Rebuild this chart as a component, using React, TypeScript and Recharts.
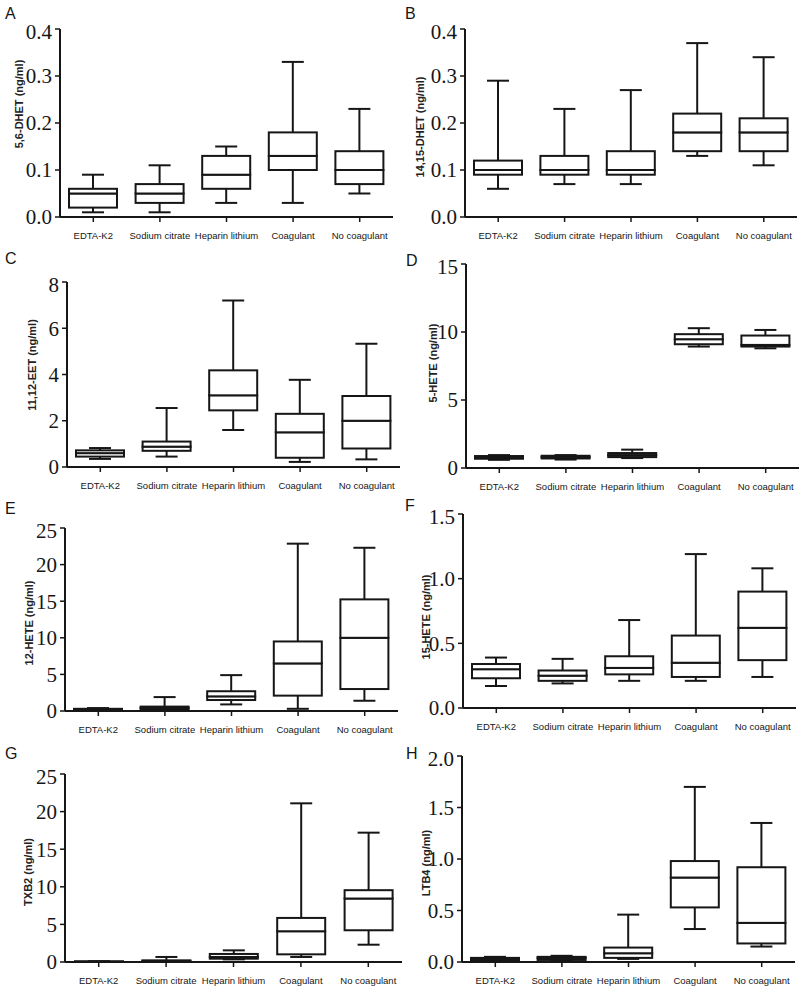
import React from "react"
import { ComposedChart, Bar, XAxis, YAxis } from "recharts"

const CATEGORIES = ["EDTA-K2", "Sodium citrate", "Heparin lithium", "Coagulant", "No coagulant"]

// each row: [min, q1, median, q3, max], in CATEGORIES order
const DHET_56 = [
  [0.01, 0.02, 0.05, 0.06, 0.09],
  [0.01, 0.03, 0.05, 0.07, 0.11],
  [0.03, 0.06, 0.09, 0.13, 0.15],
  [0.03, 0.1, 0.13, 0.18, 0.33],
  [0.05, 0.07, 0.1, 0.14, 0.23],
]
const DHET_1415 = [
  [0.06, 0.09, 0.1, 0.12, 0.29],
  [0.07, 0.09, 0.1, 0.13, 0.23],
  [0.07, 0.09, 0.1, 0.14, 0.27],
  [0.13, 0.14, 0.18, 0.22, 0.37],
  [0.11, 0.14, 0.18, 0.21, 0.34],
]
const EET_1112 = [
  [0.35, 0.45, 0.6, 0.72, 0.82],
  [0.45, 0.7, 0.88, 1.1, 2.55],
  [1.6, 2.45, 3.1, 4.18, 7.2],
  [0.22, 0.4, 1.5, 2.3, 3.77],
  [0.33, 0.8, 2.0, 3.07, 5.33],
]
const HETE_5 = [
  [0.6, 0.68, 0.78, 0.88, 0.95],
  [0.62, 0.7, 0.8, 0.9, 0.95],
  [0.73, 0.8, 0.95, 1.1, 1.35],
  [8.93, 9.1, 9.47, 9.84, 10.28],
  [8.8, 8.93, 9.05, 9.74, 10.15],
]
const HETE_12 = [
  [0.08, 0.12, 0.2, 0.3, 0.4],
  [0.1, 0.2, 0.4, 0.6, 1.9],
  [0.9, 1.5, 2.0, 2.7, 4.9],
  [0.3, 2.1, 6.5, 9.5, 22.86],
  [1.4, 3.0, 10.0, 15.25, 22.3],
]
const HETE_15 = [
  [0.17, 0.23, 0.3, 0.34, 0.39],
  [0.19, 0.21, 0.25, 0.29, 0.38],
  [0.21, 0.26, 0.31, 0.4, 0.68],
  [0.21, 0.24, 0.35, 0.56, 1.19],
  [0.24, 0.37, 0.62, 0.9, 1.08],
]
const TXB2 = [
  [0.02, 0.04, 0.06, 0.08, 0.1],
  [0.05, 0.09, 0.13, 0.22, 0.67],
  [0.35, 0.44, 0.67, 1.07, 1.55],
  [0.67, 1.02, 4.09, 5.86, 21.1],
  [2.3, 4.22, 8.44, 9.55, 17.2],
]
const LTB4 = [
  [0.01, 0.015, 0.025, 0.04, 0.05],
  [0.01, 0.02, 0.04, 0.05, 0.06],
  [0.03, 0.04, 0.085, 0.14, 0.46],
  [0.32, 0.53, 0.82, 0.98, 1.7],
  [0.15, 0.18, 0.38, 0.92, 1.35],
]

const TICKS_DHET = [0, 0.1, 0.2, 0.3, 0.4]
const TICKS_EET = [0, 2, 4, 6, 8]
const TICKS_5HETE = [0, 5, 10, 15]
const TICKS_25 = [0, 5, 10, 15, 20, 25]
const TICKS_15HETE = [0, 0.5, 1.0, 1.5]
const TICKS_LTB4 = [0, 0.5, 1.0, 1.5, 2.0]

const INK = "#161616"
const SANS = "'Liberation Sans', Arial, sans-serif"

function toRows(stats: number[][]) {
  return CATEGORIES.map((name, i) => {
    const [min, q1, med, q3, max] = stats[i]
    return { name, base: min, lowW: q1 - min, lowBox: med - q1, highBox: q3 - med, highW: max - q3 }
  })
}

const whisker = (capAtTop: boolean) => (props: any) => {
  const { x, y, width, height } = props
  const cx = x + width / 2
  const capY = capAtTop ? y : y + height
  return (
    <g>
      <line x1={cx} x2={cx} y1={y} y2={y + height} stroke={INK} strokeWidth={2} />
      <line x1={cx - 11} x2={cx + 11} y1={capY} y2={capY} stroke={INK} strokeWidth={2} />
    </g>
  )
}

const boxPart = (props: any) => {
  const { x, y, width, height } = props
  return <rect x={x} y={y} width={width} height={Math.max(height, 0)} fill="#fff" stroke={INK} strokeWidth={2} />
}

const PANELS = [
  { letter: "A", title: "5,6-DHET (ng/ml)", stats: DHET_56, ticks: TICKS_DHET, dec: 1, left: 0, axisX: 60, top: 29, bottom: 217, right: 393, lx: 5, ly: 6, tx: 19, ty: 104 },
  { letter: "B", title: "14,15-DHET (ng/ml)", stats: DHET_1415, ticks: TICKS_DHET, dec: 1, left: 400, axisX: 465, top: 29, bottom: 217, right: 797, lx: 405, ly: 6, tx: 420, ty: 127 },
  { letter: "C", title: "11,12-EET (ng/ml)", stats: EET_1112, ticks: TICKS_EET, dec: 0, left: 0, axisX: 67, top: 282, bottom: 467, right: 400, lx: 5, ly: 251, tx: 32, ty: 365 },
  { letter: "D", title: "5-HETE (ng/ml)", stats: HETE_5, ticks: TICKS_5HETE, dec: 0, left: 400, axisX: 466, top: 264, bottom: 468, right: 799, lx: 406, ly: 253, tx: 433, ty: 363 },
  { letter: "E", title: "12-HETE (ng/ml)", stats: HETE_12, ticks: TICKS_25, dec: 0, left: 0, axisX: 65, top: 528, bottom: 711, right: 398, lx: 5, ly: 501, tx: 29, ty: 623 },
  { letter: "F", title: "15-HETE (ng/ml)", stats: HETE_15, ticks: TICKS_15HETE, dec: 1, left: 400, axisX: 463, top: 514, bottom: 708, right: 796, lx: 405, ly: 498, tx: 426, ty: 617 },
  { letter: "G", title: "TXB2 (ng/ml)", stats: TXB2, ticks: TICKS_25, dec: 0, left: 0, axisX: 65, top: 774, bottom: 962, right: 402, lx: 5, ly: 746, tx: 28, ty: 872 },
  { letter: "H", title: "LTB4 (ng/ml)", stats: LTB4, ticks: TICKS_LTB4, dec: 1, left: 400, axisX: 462, top: 756, bottom: 962, right: 795, lx: 406, ly: 746, tx: 426, ty: 863 },
]

function BoxPanel({ p }: { p: (typeof PANELS)[number] }) {
  const w = p.right - p.left + 4
  const h = p.bottom - p.top + 10 + 30
  const max = p.ticks[p.ticks.length - 1]
  return (
    <>
      <div style={{ position: "absolute", left: p.lx, top: p.ly, fontFamily: SANS, fontSize: 16, lineHeight: "16px", color: INK }}>
        {p.letter}
      </div>
      <div
        style={{
          position: "absolute",
          left: p.tx,
          top: p.ty,
          transform: "translate(-50%, -50%) rotate(-90deg)",
          whiteSpace: "nowrap",
          fontFamily: SANS,
          fontSize: 11,
          fontWeight: "bold",
          color: "#222",
        }}
      >
        {p.title}
      </div>
      <div style={{ position: "absolute", left: p.left, top: p.top - 10 }}>
        <ComposedChart width={w} height={h} data={toRows(p.stats)} margin={{ top: 10, right: 4, left: 0, bottom: 0 }}>
          <XAxis
            dataKey="name"
            interval={0}
            height={30}
            tickSize={5}
            tickMargin={10}
            axisLine={{ stroke: INK, strokeWidth: 2 }}
            tickLine={{ stroke: INK, strokeWidth: 1.5 }}
            tick={{ fontSize: 9.5, fill: INK, fontFamily: SANS }}
          />
          <YAxis
            domain={[0, max]}
            ticks={p.ticks}
            width={p.axisX - p.left}
            tickSize={5}
            tickMargin={3}
            axisLine={{ stroke: INK, strokeWidth: 2 }}
            tickLine={{ stroke: INK, strokeWidth: 1.5 }}
            tick={{ fontSize: 21, fill: INK, fontFamily: "'Liberation Serif', 'Times New Roman', serif" }}
            tickFormatter={(v: number) => v.toFixed(p.dec)}
          />
          <Bar dataKey="base" stackId="b" barSize={48} fill="transparent" isAnimationActive={false} />
          <Bar dataKey="lowW" stackId="b" barSize={48} shape={whisker(false)} isAnimationActive={false} />
          <Bar dataKey="lowBox" stackId="b" barSize={48} shape={boxPart} isAnimationActive={false} />
          <Bar dataKey="highBox" stackId="b" barSize={48} shape={boxPart} isAnimationActive={false} />
          <Bar dataKey="highW" stackId="b" barSize={48} shape={whisker(true)} isAnimationActive={false} />
        </ComposedChart>
      </div>
    </>
  )
}

export default function App() {
  return (
    <div style={{ position: "absolute", left: 0, top: 0, width: 800, height: 988, background: "#fff", overflow: "hidden" }}>
      {PANELS.map((p) => (
        <BoxPanel key={p.letter} p={p} />
      ))}
    </div>
  )
}
